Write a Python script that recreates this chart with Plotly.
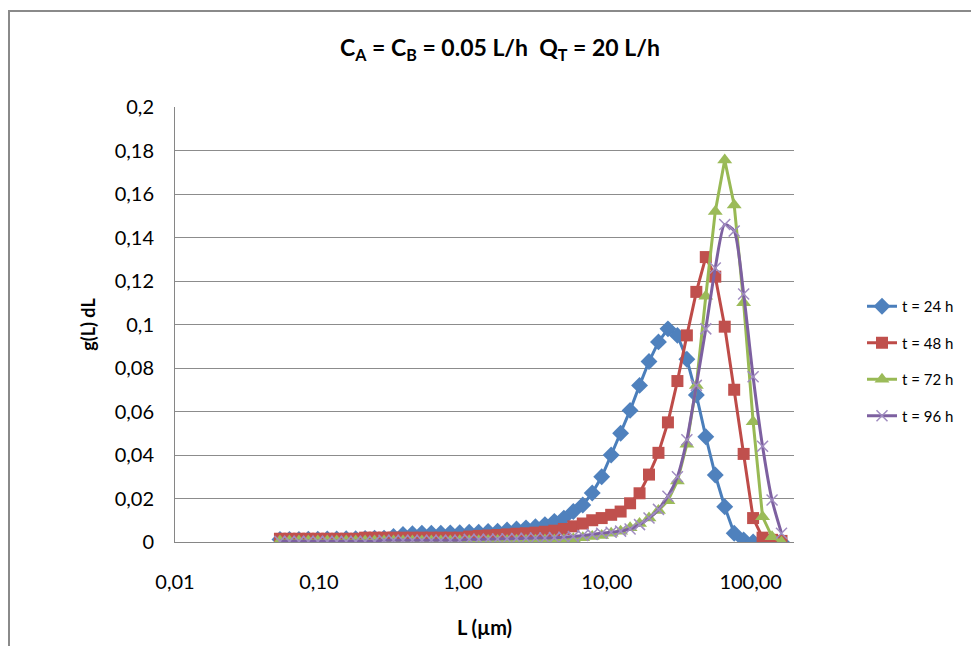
import plotly.graph_objects as go

# Particle size L (µm)
L = [0.0536, 0.0624, 0.0726, 0.0844, 0.0982, 0.1143, 0.1329, 0.1547, 0.1800, 0.2094,
     0.2436, 0.2834, 0.3297, 0.3837, 0.4463, 0.5193, 0.6041, 0.7031, 0.8180, 0.9517,
     1.1072, 1.2882, 1.4988, 1.7437, 2.0290, 2.3605, 2.7465, 3.1955, 3.7180, 4.3251,
     5.0326, 5.8558, 6.8129, 7.9265, 9.2223, 10.730, 12.484, 14.525, 16.898, 19.660,
     22.873, 26.614, 30.970, 36.030, 41.920, 48.762, 56.754, 66.022, 76.815, 89.358,
     103.97, 120.94, 140.74, 163.76]

t24 = [0.0012, 0.0012, 0.0012, 0.0013, 0.0013, 0.0014, 0.0014, 0.0015, 0.0015, 0.0016,
       0.0017, 0.0018, 0.0025, 0.0035, 0.0038, 0.004, 0.004, 0.004, 0.0042, 0.0043,
       0.0045, 0.0045, 0.0048, 0.005, 0.0055, 0.006, 0.0065, 0.007, 0.008, 0.0095,
       0.011, 0.014, 0.017, 0.0225, 0.030, 0.040, 0.050, 0.0605, 0.072, 0.083,
       0.092, 0.098, 0.095, 0.084, 0.0676, 0.0484, 0.0308, 0.0162, 0.004, 0.001,
       0.0, 0.0, 0.0, 0.0]

t48 = [0.0015, 0.0015, 0.0015, 0.0015, 0.0015, 0.0015, 0.0015, 0.0015, 0.0015, 0.002,
       0.002, 0.002, 0.002, 0.002, 0.002, 0.002, 0.002, 0.002, 0.002, 0.002,
       0.0025, 0.0028, 0.003, 0.0032, 0.0035, 0.0038, 0.004, 0.0043, 0.0047, 0.0052,
       0.006, 0.0072, 0.0085, 0.010, 0.011, 0.0125, 0.014, 0.0178, 0.0224, 0.031,
       0.041, 0.055, 0.074, 0.095, 0.115, 0.131, 0.122, 0.099, 0.070, 0.0405,
       0.011, 0.002, 0.001, 0.0005]

t72 = [0.0005, 0.0005, 0.0005, 0.0005, 0.0005, 0.0005, 0.0005, 0.0005, 0.0005, 0.0005,
       0.0005, 0.0005, 0.0005, 0.0005, 0.0005, 0.0005, 0.0005, 0.0005, 0.0005, 0.0006,
       0.0006, 0.0006, 0.0007, 0.0007, 0.0007, 0.0008, 0.0008, 0.0008, 0.0009, 0.0009,
       0.001, 0.0015, 0.002, 0.0025, 0.003, 0.004, 0.005, 0.0065, 0.0085, 0.011,
       0.0145, 0.019, 0.028, 0.045, 0.072, 0.113, 0.152, 0.1756, 0.155, 0.110,
       0.0553, 0.0116, 0.0024, 0.0]

t96 = [0.0003, 0.0003, 0.0003, 0.0003, 0.0003, 0.0003, 0.0003, 0.0003, 0.0003, 0.0003,
       0.0003, 0.0008, 0.0008, 0.0008, 0.0008, 0.0008, 0.0008, 0.0008, 0.0008, 0.0008,
       0.0012, 0.0012, 0.0013, 0.0014, 0.0015, 0.0016, 0.0017, 0.0018, 0.0018, 0.002,
       0.0022, 0.0025, 0.003, 0.0035, 0.004, 0.0045, 0.005, 0.006, 0.008, 0.011,
       0.015, 0.021, 0.030, 0.047, 0.072, 0.098, 0.126, 0.146, 0.143, 0.114,
       0.076, 0.044, 0.0193, 0.004]

x_tickvals = [0.01, 0.1, 1, 10, 100]
x_ticktext = ["0,01", "0,10", "1,00", "10,00", "100,00"]
series_names = ["t = 24 h", "t = 48 h", "t = 72 h", "t = 96 h"]

FONT = "Lato, 'Open Sans', sans-serif"
# the page body adds an 8 px margin, so figure coords = screen coords - 8
W, H = 971, 638
L_PX, R_PX, T_PX, B_PX = 167, 786, 99, 534

fig = go.Figure()

fig.add_trace(go.Scatter(
    x=L, y=t24, name=series_names[0], mode="lines+markers", legendgroup="a",
    line=dict(color="#4A7EBB", width=3),
    marker=dict(symbol="diamond", size=13, color="#4F81BD", line=dict(width=0))))
fig.add_trace(go.Scatter(
    x=L, y=t48, name=series_names[1], mode="lines+markers", legendgroup="b",
    line=dict(color="#BE4B48", width=3),
    marker=dict(symbol="square", size=12, color="#C0504D", line=dict(width=0))))
fig.add_trace(go.Scatter(
    x=L, y=t72, name=series_names[2], mode="lines+markers", legendgroup="c",
    line=dict(color="#98B954", width=3),
    marker=dict(symbol="triangle-up", size=13, color="#9BBB59", line=dict(width=0))))
fig.add_trace(go.Scatter(
    x=L, y=t96, name=series_names[3], mode="lines+markers", legendgroup="d",
    line=dict(color="#7D60A0", width=3, shape="spline", smoothing=0.6),
    marker=dict(symbol="x-thin", size=11, color="#A08CC0",
                line=dict(width=1.5, color="#A08CC0"))))

def px2paper_x(px):
    return (px - L_PX) / (R_PX - L_PX)

def px2paper_y(py):
    return (B_PX - py) / (B_PX - T_PX)

fig.update_layout(
    width=W, height=H,
    margin=dict(l=L_PX, r=W - R_PX, t=T_PX, b=H - B_PX, pad=0),
    paper_bgcolor="white", plot_bgcolor="white",
    separators=", ",
    font=dict(family=FONT, color="#000000"),
    title=dict(text="C<sub>A</sub> = C<sub>B</sub> = 0.05 L/h  Q<sub>T</sub> = 20 L/h",
               x=492 / W, xanchor="center", y=1 - 40 / H, yanchor="middle",
               xref="container", yref="container",
               font=dict(family=FONT, size=23, color="#000000", weight="bold")),
    xaxis=dict(type="log", range=[-2, 2.30103], tickvals=x_tickvals, ticktext=x_ticktext,
               showgrid=False, zeroline=False, showline=True, linecolor="#868686",
               linewidth=1, ticks="", ticklabelstandoff=22,
               tickfont=dict(family=FONT, size=20, color="#000000"),
               title=dict(text="<b>L (µm)</b>", standoff=28,
                          font=dict(family=FONT, size=20, color="#000000"))),
    yaxis=dict(range=[0, 0.2], dtick=0.02, tick0=0, showgrid=True, gridcolor="#8C8C8C",
               gridwidth=1, zeroline=False, showline=True, linecolor="#868686",
               linewidth=1, ticks="", ticklabelstandoff=16,
               tickfont=dict(family=FONT, size=20, color="#000000"),
               title=dict(text="<b>g(L) dL</b>", standoff=14,
                          font=dict(family=FONT, size=18, color="#000000"))),
    legend=dict(x=px2paper_x(854), xanchor="left", y=px2paper_y(353), yanchor="middle",
                bgcolor="rgba(0,0,0,0)", borderwidth=0, tracegroupgap=14,
                font=dict(family=FONT, size=15, color="#000000")),
    shapes=[dict(type="rect", xref="paper", yref="paper",
                 x0=px2paper_x(1), x1=px2paper_x(990),
                 y0=px2paper_y(660), y1=px2paper_y(3),
                 line=dict(color="#8A8A8A", width=2), fillcolor="rgba(0,0,0,0)",
                 layer="below")],
)

fig.write_html("out.html")
